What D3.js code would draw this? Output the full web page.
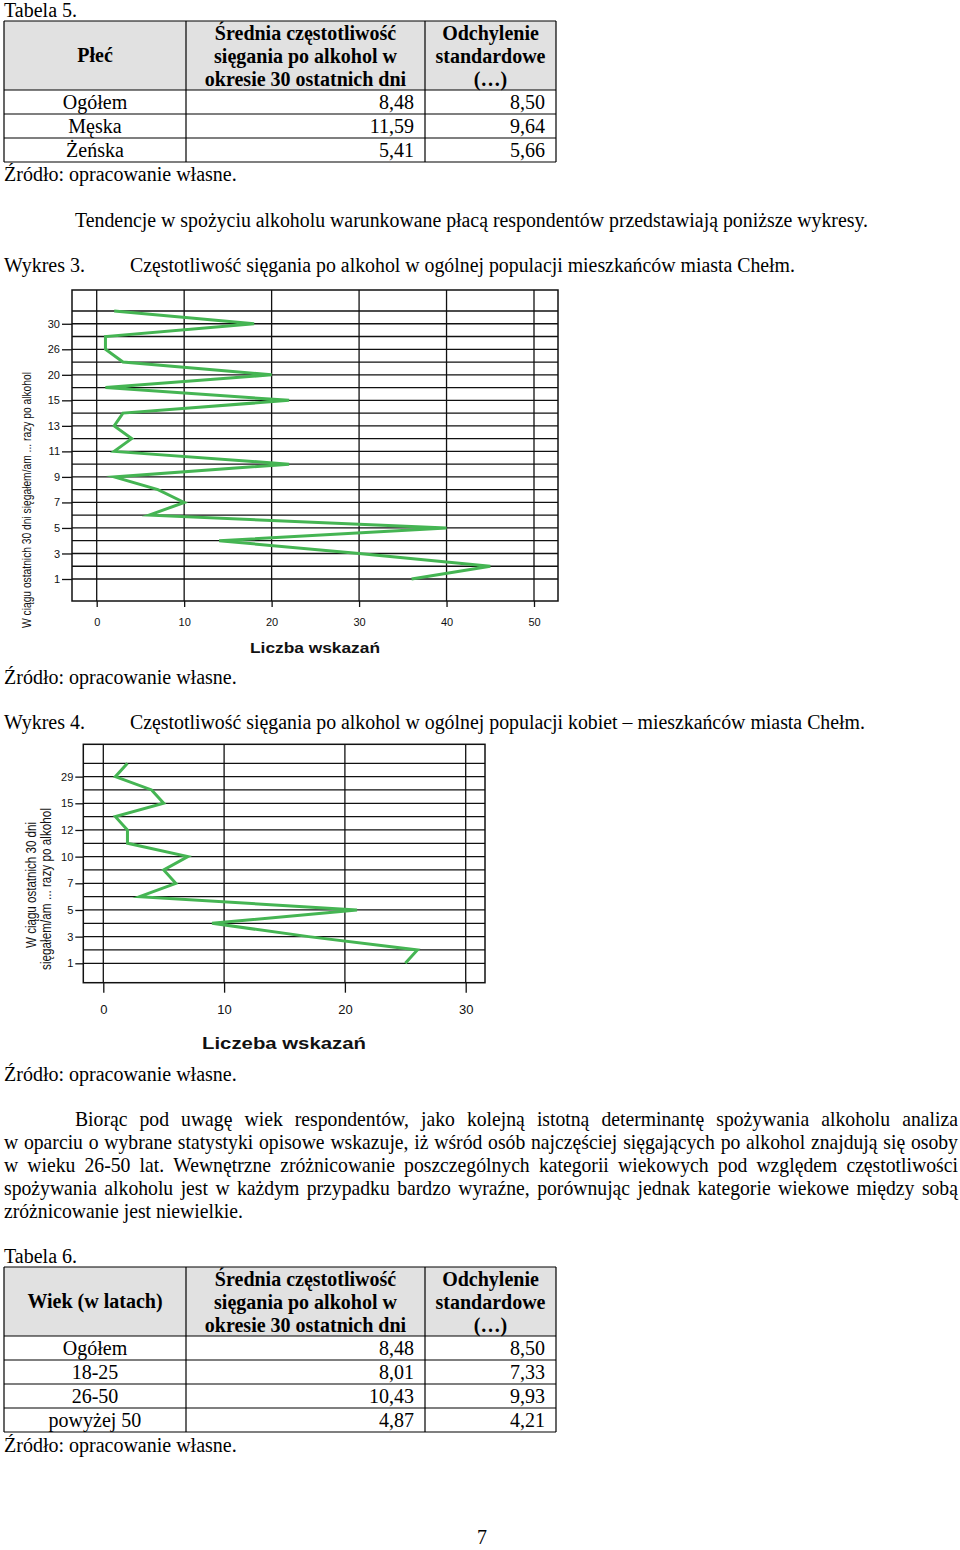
<!DOCTYPE html>
<html><head><meta charset="utf-8">
<script src="https://cdn.jsdelivr.net/npm/d3@7"></script>
<style>html,body{margin:0;padding:0;background:#fff}svg{display:block}</style>
</head><body>
<script>
// ---------- DATA ----------
const table5Title = "Tabela 5.";
const table5FirstHeader = "Płeć";
const table5Groups = ["Ogółem", "Męska", "Żeńska"];
const table5Mean = ["8,48", "11,59", "5,41"];
const table5Sd = ["8,50", "9,64", "5,66"];

const table6Title = "Tabela 6.";
const table6FirstHeader = "Wiek (w latach)";
const table6Groups = ["Ogółem", "18-25", "26-50", "powyżej 50"];
const table6Mean = ["8,48", "8,01", "10,43", "4,87"];
const table6Sd = ["8,50", "7,33", "9,93", "4,21"];

const meanHeader = ["Średnia częstotliwość", "sięgania po alkohol w", "okresie 30 ostatnich dni"];
const sdHeader = ["Odchylenie", "standardowe", "(…)"];
const sourceText = "Źródło: opracowanie własne.";

// Wykres 3 (categories from bottom to top)
const chart3Categories = ["1","2","3","4","5","6","7","8","9","10","11","12","13","14","15","18","20","25","26","28","30","40"];
const chart3Values =     [36, 45, 30, 14, 40,  6, 10,  7,  2, 22,  2,  4,  2,  3, 22,  1, 20,  3,  1,  1, 18,  2];
const chart3TickLabels = ["1","3","5","7","9","11","13","15","20","26","30"];
const chart3XTicks = [0, 10, 20, 30, 40, 50];

// Wykres 4
const chart4Categories = ["1","2","3","4","5","6","7","8","10","11","12","14","15","20","29","30"];
const chart4Values =     [25, 26, 17,  9, 21,  3,  6,  5,  7,  2,  2,  1,  5,  4,  1,  2];
const chart4TickLabels = ["1","3","5","7","10","12","15","29"];
const chart4XTicks = [0, 10, 20, 30];

const paragraphLines = [
  "Biorąc pod uwagę wiek respondentów, jako kolejną istotną determinantę spożywania alkoholu analiza",
  "w oparciu o wybrane statystyki opisowe wskazuje, iż wśród osób najczęściej sięgających po alkohol znajdują się osoby",
  "w wieku 26-50 lat. Wewnętrzne zróżnicowanie poszczególnych kategorii wiekowych pod względem częstotliwości",
  "spożywania alkoholu jest w każdym przypadku bardzo wyraźne, porównując jednak kategorie wiekowe między sobą",
  "zróżnicowanie jest niewielkie."
];

// ---------- STYLE ----------
const SERIF = "'Liberation Serif','Times New Roman',serif";
const SANS = "'Liberation Sans',Arial,sans-serif";
const FS = 20;
const GREEN = "#45b553";

const svg = d3.select("body").append("svg").attr("width", 960).attr("height", 1550);
svg.append("rect").attr("width", 960).attr("height", 1550).attr("fill", "#fff");

function serifText(x, yc, str, opts = {}) {
  const t = svg.append("text")
    .attr("x", x).attr("y", yc + FS * 0.34)
    .attr("font-family", SERIF).attr("font-size", opts.fs || FS)
    .attr("font-weight", opts.bold ? "bold" : "normal")
    .attr("text-anchor", opts.anchor || "start")
    .attr("fill", "#000").text(str);
  if (opts.len) t.attr("textLength", opts.len).attr("lengthAdjust", "spacingAndGlyphs");
  return t;
}

// ---------- TABLES ----------
function drawTable(top, firstHeader, groups, means, sds) {
  const cols = [4, 186, 425, 556];
  const headerH = 69, rowH = 24;
  const bottom = top + headerH + rowH * groups.length;
  svg.append("rect").attr("x", cols[0]).attr("y", top).attr("width", cols[3] - cols[0])
    .attr("height", headerH).attr("fill", "#e1e1e1");
  const g = svg.append("g").attr("stroke", "#000").attr("stroke-width", 1.2);
  cols.forEach(c => g.append("line").attr("x1", c).attr("x2", c).attr("y1", top).attr("y2", bottom));
  const rowLines = [top, top + headerH].concat(groups.map((d, i) => top + headerH + rowH * (i + 1)));
  rowLines.forEach(r => g.append("line").attr("x1", cols[0]).attr("x2", cols[3]).attr("y1", r).attr("y2", r));

  serifText((cols[0] + cols[1]) / 2, top + headerH / 2, firstHeader, {bold: true, anchor: "middle"});
  meanHeader.forEach((l, i) => serifText((cols[1] + cols[2]) / 2, top + 12 + 23 * i, l, {bold: true, anchor: "middle"}));
  sdHeader.forEach((l, i) => serifText((cols[2] + cols[3]) / 2, top + 12 + 23 * i, l, {bold: true, anchor: "middle"}));
  groups.forEach((gname, i) => {
    const yc = top + headerH + rowH * (i + 0.5);
    serifText((cols[0] + cols[1]) / 2, yc, gname, {anchor: "middle"});
    serifText(cols[2] - 11, yc, means[i], {anchor: "end"});
    serifText(cols[3] - 11, yc, sds[i], {anchor: "end"});
  });
  return bottom;
}

serifText(4, 10, table5Title);
drawTable(21, table5FirstHeader, table5Groups, table5Mean, table5Sd);
serifText(4, 174, sourceText);

serifText(75, 220, "Tendencje w spożyciu alkoholu warunkowane płacą respondentów przedstawiają poniższe wykresy.", {len: 793});
serifText(4, 265, "Wykres 3.");
serifText(130, 265, "Częstotliwość sięgania po alkohol w ogólnej populacji mieszkańców miasta Chełm.", {len: 665});

// ---------- CHARTS ----------
function drawChart(cfg) {
  const g = svg.append("g");
  const x = d3.scaleLinear().domain(cfg.xDomain).range(cfg.xRange);
  const y = d3.scalePoint().domain(cfg.categories).range(cfg.yRange);
  const f = cfg.frame;

  // horizontal grid (one per category)
  g.append("g").selectAll("line").data(cfg.categories).join("line")
    .attr("x1", f.x0).attr("x2", f.x1).attr("y1", d => y(d)).attr("y2", d => y(d))
    .attr("stroke", "#111").attr("stroke-width", 1.3);
  // vertical grid
  g.append("g").selectAll("line").data(cfg.xTicks).join("line")
    .attr("x1", d => x(d)).attr("x2", d => x(d)).attr("y1", f.y0).attr("y2", f.y1)
    .attr("stroke", "#111").attr("stroke-width", 1.3);
  // frame
  g.append("rect").attr("x", f.x0).attr("y", f.y0).attr("width", f.x1 - f.x0).attr("height", f.y1 - f.y0)
    .attr("fill", "none").attr("stroke", "#111").attr("stroke-width", 1.5);

  // axes
  const ya = g.append("g").attr("transform", `translate(${f.x0},0)`)
    .call(d3.axisLeft(y).tickValues(cfg.tickLabels).tickSize(cfg.yTickSize).tickPadding(2));
  ya.select(".domain").remove();
  ya.selectAll("line").attr("stroke", "#111").attr("stroke-width", 1.3);
  ya.selectAll("text").attr("font-family", SANS).attr("font-size", cfg.yFont).attr("fill", "#111");

  const xa = g.append("g").attr("transform", `translate(0,${f.y1})`)
    .call(d3.axisBottom(x).tickValues(cfg.xTicks).tickSize(cfg.xTickSize).tickPadding(cfg.xPad).tickFormat(d3.format("d")));
  xa.select(".domain").remove();
  xa.selectAll("line").attr("stroke", "#111").attr("stroke-width", 1.3);
  xa.selectAll("text").attr("font-family", SANS).attr("font-size", cfg.xFont).attr("fill", "#111");

  // data line
  const data = cfg.categories.map((c, i) => ({c, v: cfg.values[i]}));
  g.append("path").datum(data)
    .attr("d", d3.line().x(d => x(d.v)).y(d => y(d.c)))
    .attr("fill", "none").attr("stroke", GREEN).attr("stroke-width", 3)
    .attr("stroke-linejoin", "miter").attr("stroke-miterlimit", 6);

  // axis titles
  cfg.yTitle.forEach(t => {
    g.append("text").attr("transform", `translate(${t.x},${t.y}) rotate(-90)`)
      .attr("text-anchor", "middle").attr("dominant-baseline", "central")
      .attr("font-family", SANS).attr("font-size", t.fs).attr("fill", "#111")
      .attr("textLength", t.len).attr("lengthAdjust", "spacingAndGlyphs").text(t.text);
  });
  g.append("text").attr("x", cfg.xTitle.x).attr("y", cfg.xTitle.y)
    .attr("text-anchor", "middle").attr("dominant-baseline", "central")
    .attr("font-family", SANS).attr("font-size", cfg.xTitle.fs).attr("font-weight", "bold").attr("fill", "#111")
    .attr("textLength", cfg.xTitle.len).attr("lengthAdjust", "spacingAndGlyphs").text(cfg.xTitle.text);
}

drawChart({
  categories: chart3Categories, values: chart3Values, tickLabels: chart3TickLabels, xTicks: chart3XTicks,
  xDomain: [0, 50], xRange: [96.7, 534],
  yRange: [579, 311],
  frame: {x0: 72, x1: 558, y0: 290, y1: 601},
  yTickSize: 10, yFont: 11, xTickSize: 6, xPad: 11, xFont: 11,
  yTitle: [{text: "W ciągu ostatnich 30 dni sięgałem/am ... razy po alkohol", x: 27, y: 500, fs: 12, len: 256}],
  xTitle: {text: "Liczba wskazań", x: 315, y: 648, fs: 14, len: 130}
});

serifText(4, 677, sourceText);
serifText(4, 722, "Wykres 4.");
serifText(130, 722, "Częstotliwość sięgania po alkohol w ogólnej populacji kobiet – mieszkańców miasta Chełm.", {len: 735});

drawChart({
  categories: chart4Categories, values: chart4Values, tickLabels: chart4TickLabels, xTicks: chart4XTicks,
  xDomain: [0, 30], xRange: [103.3, 465.7],
  yRange: [963.3, 763.3],
  frame: {x0: 83.3, x1: 485, y0: 744.3, y1: 982.7},
  yTickSize: 8, yFont: 11, xTickSize: 10, xPad: 12, xFont: 13,
  yTitle: [
    {text: "W ciągu ostatnich 30 dni", x: 31, y: 885, fs: 14, len: 126},
    {text: "sięgałem/am ... razy po alkohol", x: 46, y: 889, fs: 14, len: 162}
  ],
  xTitle: {text: "Liczeba wskazań", x: 284, y: 1043, fs: 17, len: 164}
});

serifText(4, 1074, sourceText);

// ---------- PARAGRAPH (justified) ----------
(function () {
  const starts = [75, 4, 4, 4, 4];
  const ends = [958, 958, 958, 958, 243];
  const ys = [1119, 1142, 1165, 1188, 1211];
  const probe = svg.append("text").attr("font-family", SERIF).attr("font-size", FS);
  const measure = s => { probe.text(s); return probe.node().getComputedTextLength(); };
  const spaceW = measure("a b") - measure("ab");
  const lastNat = measure(paragraphLines[4]);
  const kBase = Math.min(1, (ends[4] - starts[4]) / lastNat);
  paragraphLines.forEach((line, i) => {
    const words = line.split(" ");
    const widths = words.map(measure);
    const sumW = d3.sum(widths);
    const last = i === paragraphLines.length - 1;
    let k = kBase;
    let target = (ends[i] - starts[i]) / k;
    let gap = last ? spaceW : (target - sumW) / (words.length - 1);
    const minGap = spaceW * 0.7;
    if (!last && gap < minGap) {
      k = (ends[i] - starts[i]) / (sumW + minGap * (words.length - 1));
      gap = minGap;
    }
    const g = svg.append("g").attr("transform", `translate(${starts[i]},${ys[i] + FS * 0.34}) scale(${k},1)`);
    const t = g.append("text").attr("font-family", SERIF).attr("font-size", FS).attr("fill", "#000");
    let cx = 0;
    words.forEach((w, j) => {
      t.append("tspan").attr("x", cx).attr("y", 0).text(w);
      cx += widths[j] + gap;
    });
  });
  probe.remove();
})();

serifText(4, 1256, table6Title);
drawTable(1267, table6FirstHeader, table6Groups, table6Mean, table6Sd);
serifText(4, 1445, sourceText);
serifText(482, 1537, "7", {anchor: "middle"});
</script>
</body></html>
